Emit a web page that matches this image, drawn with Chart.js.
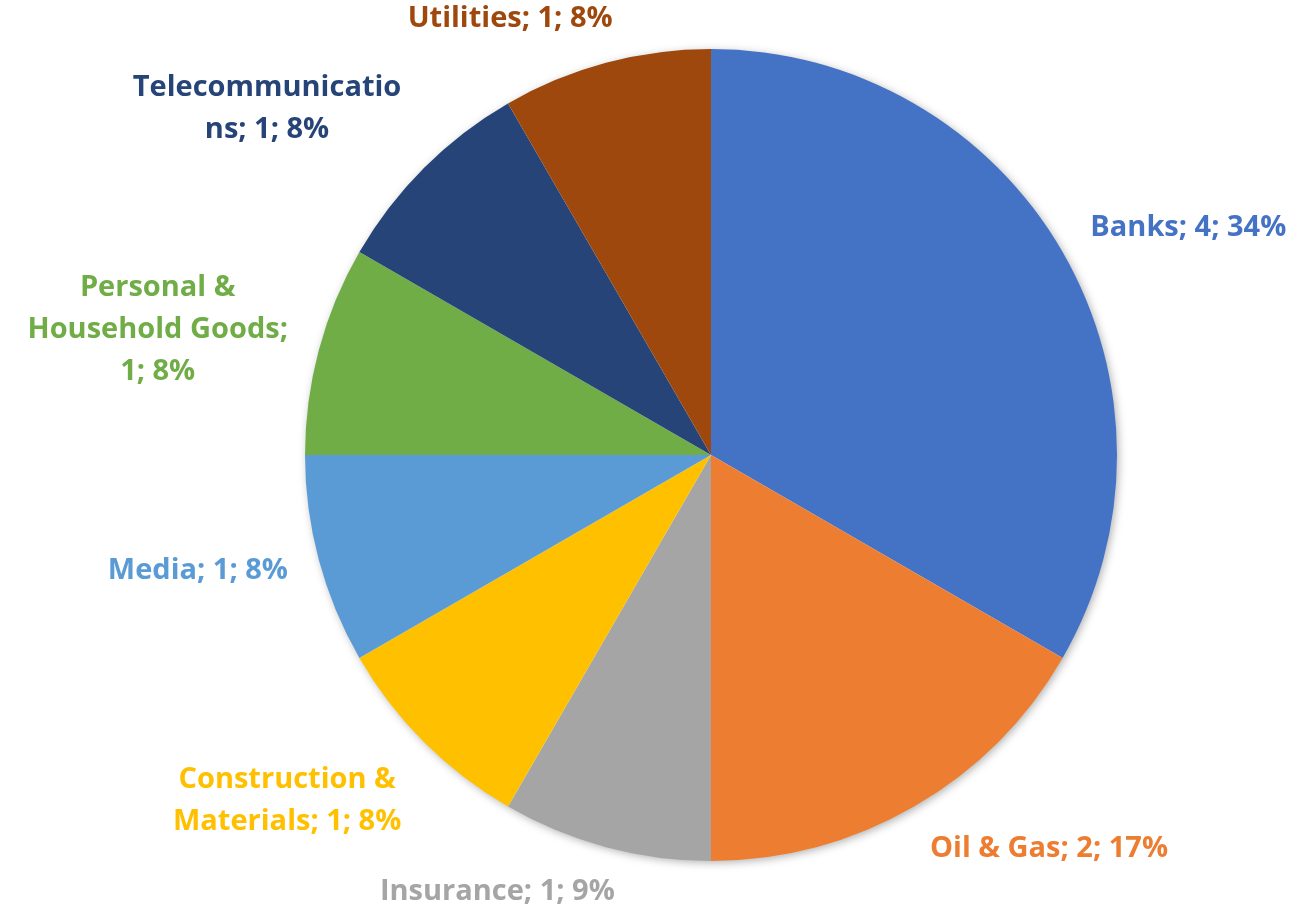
<!DOCTYPE html>
<html>
<head>
<meta charset="utf-8">
<script src="https://cdn.jsdelivr.net/npm/chart.js@4.4.1/dist/chart.umd.min.js"></script>
<style>
  html, body { margin: 0; padding: 0; background: #fff; }
  #wrap { width: 1309px; height: 907px; position: relative; }
</style>
</head>
<body>
<div id="wrap"><canvas id="sectorPie"></canvas></div>
<script>
const categories = ['Banks', 'Oil & Gas', 'Insurance', 'Construction & Materials', 'Media', 'Personal & Household Goods', 'Telecommunications', 'Utilities'];
const counts = [4, 2, 1, 1, 1, 1, 1, 1];
const percentLabels = ['34%', '17%', '9%', '8%', '8%', '8%', '8%', '8%'];
const sliceColors = ['#4472C4', '#ED7D31', '#A5A5A5', '#FFC000', '#5B9BD5', '#70AD47', '#264478', '#9E480E'];
// how the label text wraps in the original (Excel fixed-width label boxes)
const labelLines = [
    ['Banks; 4; 34%'],
    ['Oil & Gas; 2; 17%'],
    ['Insurance; 1; 9%'],
    ['Construction &', 'Materials; 1; 8%'],
    ['Media; 1; 8%'],
    ['Personal &', 'Household Goods;', '1; 8%'],
    ['Telecommunicatio', 'ns; 1; 8%'],
    ['Utilities; 1; 8%']
];

const labelFont = 'bold 29px "Open Sans", Lato, sans-serif';
const lineH = 42;

// soft shadow behind the pie like in Excel
const pieShadow = {
    id: 'pieShadow',
    beforeDatasetsDraw(chart) {
        const arc = chart.getDatasetMeta(0).data[0];
        if (!arc) return;
        const ctx = chart.ctx;
        ctx.save();
        ctx.shadowColor = 'rgba(0,0,0,0.35)';
        ctx.shadowBlur = 10;
        ctx.shadowOffsetX = 2;
        ctx.shadowOffsetY = 2;
        ctx.fillStyle = '#fff';
        ctx.beginPath();
        ctx.arc(arc.x, arc.y, arc.outerRadius - 1, 0, Math.PI * 2);
        ctx.fill();
        ctx.restore();
    }
};

const clamp1 = v => Math.max(-1, Math.min(1, v));

// outside end labels, placed from each arc's mid angle
const outsideLabels = {
    id: 'outsideLabels',
    afterDatasetsDraw(chart) {
        const ctx = chart.ctx;
        const meta = chart.getDatasetMeta(0);
        ctx.save();
        ctx.font = labelFont;
        ctx.textBaseline = 'middle';
        ctx.textAlign = 'center';
        meta.data.forEach((arc, i) => {
            const mid = (arc.startAngle + arc.endAngle) / 2;
            const dx = Math.cos(mid), dy = Math.sin(mid);
            const ax = arc.x + dx * (arc.outerRadius + 32);
            const ay = arc.y + dy * (arc.outerRadius + 24);
            const lines = labelLines[i];
            const w = Math.max(...lines.map(l => ctx.measureText(l).width));
            const h = lines.length * lineH;
            const cx = ax + clamp1(dx * 3.3) * w / 2;
            const cy = ay + clamp1(Math.sign(dy) * Math.pow(Math.abs(dy), 1.5) * 1.7) * h / 2;
            ctx.fillStyle = sliceColors[i];
            lines.forEach((l, k) => {
                ctx.fillText(l, cx, cy - h / 2 + lineH * (k + 0.5));
            });
        });
        ctx.restore();
    }
};

new Chart(document.getElementById('sectorPie').getContext('2d'), {
    type: 'pie',
    data: {
        labels: categories,
        datasets: [{
            data: counts,
            backgroundColor: sliceColors,
            borderWidth: 0
        }]
    },
    options: {
        responsive: true,
        maintainAspectRatio: false,
        animation: false,
        layout: { padding: { left: 305, right: 192, top: 49, bottom: 46 } },
        plugins: {
            legend: { display: false },
            tooltip: { enabled: false }
        }
    },
    plugins: [pieShadow, outsideLabels]
});
</script>
</body>
</html>
